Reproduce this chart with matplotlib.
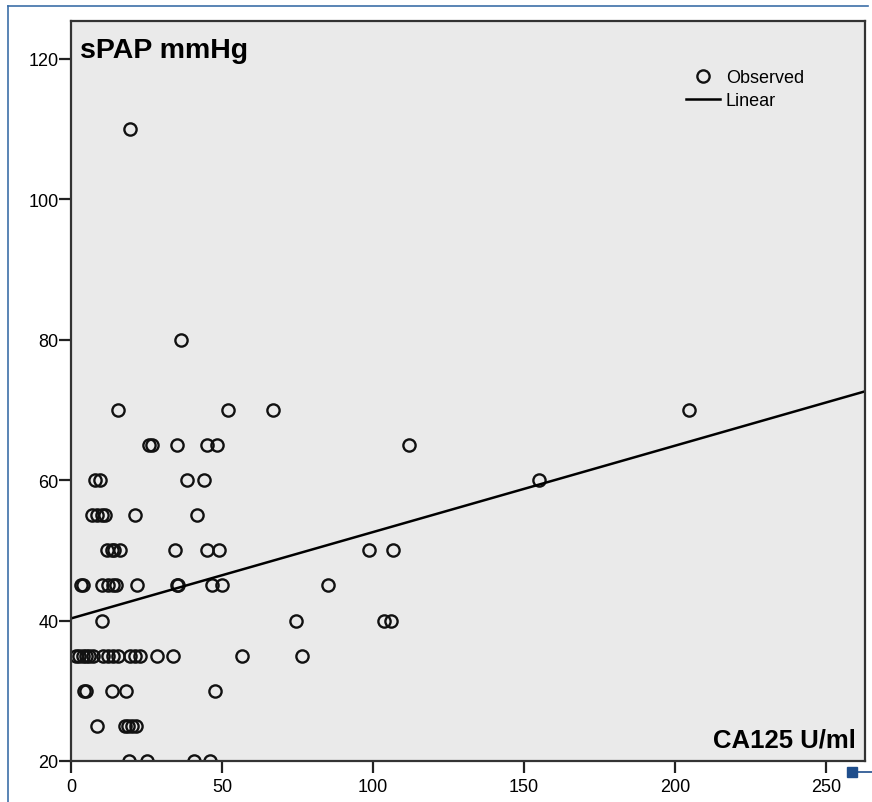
import numpy as np
import matplotlib.pyplot as plt
from matplotlib.lines import Line2D
from matplotlib.patches import Rectangle

plt.rcParams['font.family'] = ['Liberation Sans', 'DejaVu Sans']

# CA125 (U/ml) values, grouped by sPAP level (mmHg)
ca125_110 = [19.5]
ca125_80 = [36.4]
ca125_70 = [15.6, 52.0, 67.0, 204.6]
ca125_65 = [26.0, 26.8, 35.0, 44.9, 48.2, 112.0]
ca125_60 = [7.9, 9.6, 38.4, 44.0, 155.0]
ca125_55 = [6.8, 8.5, 10.2, 11.3, 21.2, 41.6]
ca125_50 = [11.8, 13.5, 14.2, 16.2, 34.4, 44.9, 49.1, 98.8, 106.7]
ca125_45 = [3.2, 3.9, 10.4, 12.1, 13.8, 14.9, 22.0, 35.0, 35.3, 46.8, 50.0, 85.2]
ca125_40 = [10.2, 74.5, 103.6, 106.0]
ca125_35 = [1.7, 2.7, 3.9, 5.0, 6.0, 7.2, 10.7, 12.4, 14.0, 15.7, 19.5, 21.2, 22.8,
            28.6, 33.9, 56.5, 76.4]
ca125_30 = [4.3, 5.0, 13.5, 18.1, 47.6]
ca125_25 = [8.7, 17.9, 19.0, 20.1, 21.5]
ca125_20 = [19.2, 25.3, 40.7, 46.0]

spap_groups = {110: ca125_110, 80: ca125_80, 70: ca125_70, 65: ca125_65, 60: ca125_60,
               55: ca125_55, 50: ca125_50, 45: ca125_45, 40: ca125_40, 35: ca125_35,
               30: ca125_30, 25: ca125_25, 20: ca125_20}

# linear fit
fit_intercept = 40.3
fit_slope = 0.123

x_ticks = [0, 50, 100, 150, 200, 250]
y_ticks = [20, 40, 60, 80, 100, 120]

ca125 = []
spap = []
for level, xs in spap_groups.items():
    ca125 += xs
    spap += [level] * len(xs)

fig = plt.figure(figsize=(8.72, 8.03), dpi=100)
ax = fig.add_axes([0.0814, 0.0511, 0.9106, 0.9215])
ax.set_facecolor('#eaeaea')

ax.plot(ca125, spap, linestyle='none', marker='o', markersize=8.8, markerfacecolor='none',
        markeredgecolor='#111111', markeredgewidth=1.7)
xl = np.array([0, 263])
ax.plot(xl, fit_intercept + fit_slope * xl, color='black', linewidth=1.8)

ax.set_xlim(0, 263)
ax.set_ylim(20, 125.4)
ax.set_xticks(x_ticks)
ax.set_yticks(y_ticks)
ax.tick_params(axis='both', direction='out', length=8.5, width=1.6, labelsize=13, color='#222222')
ax.tick_params(axis='y', pad=0.5)
ax.tick_params(axis='x', pad=4)
for s in ax.spines.values():
    s.set_linewidth(1.6)
    s.set_color('#333333')

ax.text(0.011, 0.978, 'sPAP mmHg', transform=ax.transAxes, fontsize=20.5, fontweight='bold',
        ha='left', va='top')
ax.text(0.9887, 0.019, 'CA125 U/ml', transform=ax.transAxes, fontsize=18.5, fontweight='bold',
        ha='right', va='baseline')

handles = [Line2D([], [], linestyle='none', marker='o', markersize=8.8, markerfacecolor='none',
                  markeredgecolor='#111111', markeredgewidth=1.7),
           Line2D([], [], color='black', linewidth=1.8)]
ax.legend(handles, ['Observed', 'Linear'], loc='upper left', bbox_to_anchor=(0.7746, 0.935),
          frameon=False, fontsize=13, handlelength=1.9, handletextpad=0.3, labelspacing=0.35,
          borderpad=0, borderaxespad=0)

# blue frame of the original screenshot
bc = '#3d6fa8'
fig.add_artist(Line2D([8 / 872, 8 / 872], [0, 1 - 7 / 803], color=bc, linewidth=1.2, transform=fig.transFigure))
fig.add_artist(Line2D([8 / 872, 868 / 872], [1 - 7 / 803, 1 - 7 / 803], color=bc, linewidth=1.2, transform=fig.transFigure))
fig.add_artist(Rectangle((847 / 872, 1 - 778 / 803), 10 / 872, 10 / 803, color='#1f4e8c', transform=fig.transFigure))
fig.add_artist(Line2D([857 / 872, 1], [1 - 773 / 803, 1 - 773 / 803], color='#1f4e8c', linewidth=1.2, transform=fig.transFigure))

fig.savefig('out.png', dpi=100)
